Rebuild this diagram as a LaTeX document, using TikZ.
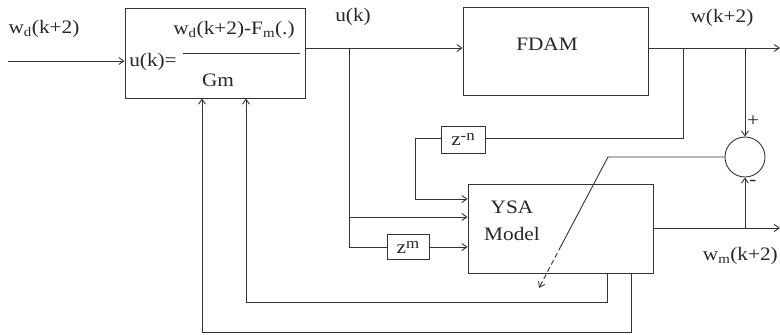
\documentclass[tikz,border=0pt]{standalone}
\usepackage{fontspec}
\setmainfont[FakeStretch=1.12]{Liberation Serif}
\usetikzlibrary{arrows.meta}
\newcommand{\zsup}[1]{z\raisebox{5pt}{\fontsize{15}{15}\selectfont #1}}
\begin{document}
\begin{tikzpicture}[x=1pt,y=-1pt,
  every node/.style={font=\fontsize{19}{21}\selectfont, text=black!85},
  ln/.style={draw=black!80, line width=0.9pt},
  arr/.style={ln, -{Straight Barb[length=5pt,width=7pt]}},
  blk/.style={ln, rectangle, inner sep=0pt},
  dly/.style={ln, rectangle, inner sep=1pt, font=\fontsize{19}{21}\selectfont}]
\useasboundingbox (0,0) rectangle (780,335);
% blocks
\node[blk, minimum width=180pt, minimum height=90pt] (ctrl) at (215,53) {};
\node[blk, minimum width=185pt, minimum height=88pt] (fdam) at (555.5,51) {};
\node[blk, minimum width=185pt, minimum height=89pt] (ysa) at (560.5,228.5) {};
\node[dly, minimum width=44pt, minimum height=27pt] (zn) at (463,139.5) {\zsup{-n}};
\node[dly, minimum width=42pt, minimum height=25pt] (zm) at (408,247) {\zsup{m}};
\node[ln, circle, minimum size=40pt, inner sep=0pt] (sum) at (745,157) {};
% texts
\node (fdamt) at (547,44) {FDAM};
\node[align=center, font=\fontsize{19}{27}\selectfont] (ysat) at (512,221) {YSA\\Model};
\node (uk) at (153,62) {u(k)=};
\node (num) at (234,30) {w\textsubscript{d}(k+2)-F\textsubscript{m}(.)};
\node (gm) at (218,80) {Gm};
\coordinate (fl) at (183,53);
\coordinate (fr) at (300,53);
\draw[ln] (fl) -- (fr);
\node (wdl) at (44,29) {w\textsubscript{d}(k+2)};
\node (ukl) at (353,17) {u(k)};
\node (wl) at (722,18) {w(k+2)};
\node[anchor=east, inner sep=0pt] (wml) at (778,256) {w\textsubscript{m}(k+2)};
\node (plus) at (753,121) {+};
\node (minus) at (753,183) {-};
% coordinates
\coordinate (in) at (8,61);
\coordinate (u) at (349,48);
\coordinate (wout) at (780,48);
\coordinate (b1) at (683,48);
\coordinate (b2) at (745,48);
\coordinate (mout) at (780,228);
\coordinate (b3) at (745,228);
\coordinate (zl) at (415,138);
\coordinate (k1) at (608,157);
\coordinate (tip) at (539,288);
\coordinate (mid) at (561,246);
\coordinate (f1) at (607,302);
\coordinate (f2) at (631,332);
\coordinate (c1) at (246,302);
\coordinate (c2) at (202,332);
% connectors
\draw[arr] (in) -- (ctrl.west |- in);
\draw[arr] (ctrl.east |- u) -- (fdam.west |- u);
\draw[ln] (u) -- (u |- zm.west) -- (zm.west);
\draw[arr] (u |- 0,217) -- (ysa.west |- 0,217);
\draw[arr] (zm.east) -- (ysa.west |- zm.east);
\draw[arr] (fdam.east |- wout) -- (wout);
\draw[ln] (b1) -- (b1 |- zl) -- (zn.east |- zl);
\draw[arr] (zn.west |- zl) -- (zl) -- (zl |- 0,199) -- (ysa.west |- 0,199);
\draw[arr] (b2) -- (sum.north);
\draw[arr] (ysa.east |- mout) -- (mout);
\draw[arr] (b3) -- (sum.south);
\draw[ln] (sum.west) -- (k1) -- (mid);
\draw[arr, dashed, dash pattern=on 5pt off 3pt] (mid) -- (tip);
\draw[arr] (ysa.south -| f1) -- (f1) -- (c1) -- (ctrl.south -| c1);
\draw[arr] (ysa.south -| f2) -- (f2) -- (c2) -- (ctrl.south -| c2);
\end{tikzpicture}
\end{document}
